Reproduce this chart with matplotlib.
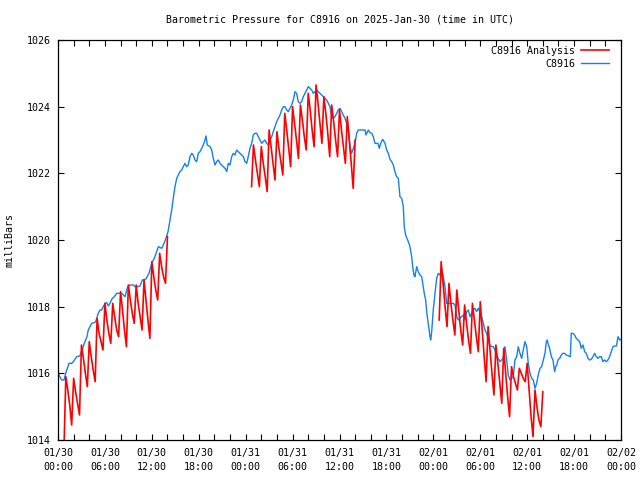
import numpy as np
import matplotlib
matplotlib.use("Agg")
import matplotlib.pyplot as plt
from matplotlib.ticker import MultipleLocator

# ---------------- data ----------------
title = "Barometric Pressure for C8916 on 2025-Jan-30 (time in UTC)"
ylabel = "milliBars"
series_names = ["C8916 Analysis", "C8916"]
xtick_hours = [0, 6, 12, 18, 24, 30, 36, 42, 48, 54, 60, 66, 72]
xtick_labels = ["01/30\n00:00", "01/30\n06:00", "01/30\n12:00", "01/30\n18:00",
                "01/31\n00:00", "01/31\n06:00", "01/31\n12:00", "01/31\n18:00",
                "02/01\n00:00", "02/01\n06:00", "02/01\n12:00", "02/01\n18:00",
                "02/02\n00:00"]
yticks = [1014, 1016, 1018, 1020, 1022, 1024, 1026]

# observed station pressure (hours since 01/30 00:00 UTC, mbar)
blue_hours = [0.0, 0.47, 0.77, 0.98, 1.41, 1.75, 1.96, 2.39, 2.77, 2.94, 3.36, 3.71, 3.87, 4.09, 4.31,
              4.64, 4.82, 5.15, 5.37, 5.59, 5.79, 6.01, 6.23, 6.43, 6.65, 6.94, 7.2, 7.51, 8.15, 8.35,
              8.57, 8.91, 9.21, 9.63, 9.85, 10.19, 10.49, 10.78, 11.21, 11.64, 11.98, 12.31, 12.62,
              12.83, 13.26, 13.47, 13.81, 14.07, 14.32, 14.54, 14.74, 14.96, 15.18, 15.38, 15.6,
              15.82, 16.02, 16.24, 16.46, 16.66, 16.88, 17.1, 17.3, 17.52, 17.74, 17.94, 18.16,
              18.38, 18.58, 18.8, 18.93, 19.09, 19.44, 19.66, 19.86, 20.08, 20.29, 20.5, 20.72,
              20.93, 21.14, 21.36, 21.57, 21.78, 21.99, 22.21, 22.42, 22.63, 22.85, 23.06, 23.27,
              23.7, 23.91, 24.13, 24.33, 24.55, 24.77, 24.97, 25.19, 25.41, 25.61, 25.83, 26.05,
              26.26, 26.47, 26.69, 26.89, 27.11, 27.33, 27.53, 27.75, 27.97, 28.18, 28.39, 28.61,
              28.82, 29.03, 29.25, 29.45, 29.67, 29.88, 30.09, 30.31, 30.52, 30.73, 30.95, 31.16,
              31.37, 31.59, 31.8, 32.01, 32.23, 32.44, 32.65, 32.86, 33.08, 33.5, 33.72, 33.93,
              34.14, 34.36, 34.57, 34.78, 35.0, 35.21, 35.42, 35.64, 35.84, 36.06, 36.28, 36.48,
              36.7, 36.92, 37.12, 37.34, 37.55, 37.76, 37.98, 38.2, 38.4, 38.62, 39.26, 39.39,
              39.68, 39.9, 40.12, 40.32, 40.54, 40.92, 41.09, 41.27, 41.52, 41.82, 42.03, 42.24,
              42.46, 42.67, 42.88, 43.09, 43.31, 43.52, 43.64, 43.73, 43.95, 44.16, 44.28, 44.46,
              44.63, 44.8, 45.01, 45.23, 45.36, 45.52, 45.65, 45.87, 46.07, 46.29, 46.51, 46.71,
              46.84, 47.02, 47.15, 47.31, 47.44, 47.57, 47.66, 47.79, 47.99, 48.21, 48.43, 48.63,
              48.85, 49.07, 49.27, 49.49, 49.71, 50.13, 50.55, 50.77, 50.99, 51.2, 51.41, 51.83,
              52.05, 52.26, 52.47, 52.69, 52.9, 53.1, 53.32, 53.54, 53.74, 53.96, 54.18, 54.39,
              54.6, 54.82, 55.02, 55.24, 55.46, 55.66, 55.88, 56.1, 56.3, 56.52, 56.74, 56.94,
              57.16, 57.38, 57.58, 57.8, 58.01, 58.22, 58.44, 58.66, 58.86, 59.08, 59.3, 59.5,
              59.72, 59.94, 60.14, 60.36, 60.57, 60.78, 61.0, 61.21, 61.42, 61.64, 61.85, 62.06,
              62.28, 62.45, 62.58, 62.66, 62.87, 63.09, 63.3, 63.51, 63.64, 63.8, 63.93, 64.15,
              64.37, 64.57, 64.79, 65.0, 65.3, 65.52, 65.64, 65.85, 66.06, 66.28, 66.5, 66.71,
              66.92, 67.14, 67.35, 67.56, 67.78, 67.99, 68.2, 68.41, 68.63, 68.84, 69.05, 69.26,
              69.48, 69.69, 69.9, 70.12, 70.33, 70.54, 70.76, 70.97, 71.18, 71.41, 71.62, 71.83, 72.0]
blue_mbar = [1016.0, 1015.8, 1015.8, 1016.0, 1016.3, 1016.3, 1016.35, 1016.5, 1016.52, 1016.6, 1016.9,
             1017.1, 1017.3, 1017.4, 1017.5, 1017.52, 1017.55, 1017.8, 1017.9, 1017.9, 1018.0, 1018.1,
             1018.12, 1018.02, 1018.1, 1018.25, 1018.3, 1018.4, 1018.4, 1018.35, 1018.3, 1018.6,
             1018.65, 1018.65, 1018.6, 1018.6, 1018.62, 1018.8, 1018.82, 1019.0, 1019.3, 1019.45,
             1019.65, 1019.8, 1019.75, 1019.85, 1020.05, 1020.25, 1020.6, 1020.9, 1021.25, 1021.6,
             1021.85, 1021.95, 1022.05, 1022.1, 1022.2, 1022.3, 1022.2, 1022.25, 1022.5, 1022.6,
             1022.55, 1022.4, 1022.35, 1022.6, 1022.65, 1022.75, 1022.85, 1023.0, 1023.12, 1022.85,
             1022.8, 1022.7, 1022.45, 1022.25, 1022.35, 1022.4, 1022.3, 1022.25, 1022.2, 1022.15,
             1022.05, 1022.3, 1022.25, 1022.5, 1022.6, 1022.55, 1022.7, 1022.65, 1022.6, 1022.5,
             1022.35, 1022.3, 1022.5, 1022.75, 1022.9, 1023.15, 1023.2, 1023.2, 1023.1, 1023.0,
             1022.9, 1022.95, 1023.0, 1022.9, 1022.85, 1023.0, 1023.1, 1023.25, 1023.4, 1023.55,
             1023.65, 1023.75, 1023.9, 1024.0, 1024.0, 1023.9, 1023.85, 1023.95, 1024.05, 1024.2,
             1024.45, 1024.4, 1024.15, 1024.1, 1024.15, 1024.3, 1024.4, 1024.5, 1024.6, 1024.55,
             1024.5, 1024.4, 1024.45, 1024.5, 1024.4, 1024.35, 1024.3, 1024.25, 1024.2, 1024.1,
             1024.0, 1023.7, 1023.65, 1023.7, 1023.8, 1023.9, 1023.95, 1023.85, 1023.75, 1023.65,
             1023.5, 1023.35, 1022.8, 1022.6, 1022.75, 1022.9, 1023.2, 1023.3, 1023.3, 1023.3,
             1023.15, 1023.3, 1023.22, 1023.2, 1023.1, 1022.9, 1022.9, 1022.75, 1022.9, 1023.02,
             1022.9, 1022.7, 1022.6, 1022.42, 1022.35, 1022.25, 1022.05, 1021.9, 1021.85, 1021.55,
             1021.3, 1021.25, 1021.0, 1020.4, 1020.15, 1020.05, 1019.95, 1019.8, 1019.5, 1019.2,
             1018.95, 1018.9, 1019.2, 1019.05, 1018.95, 1018.9, 1018.6, 1018.4, 1018.2, 1017.85,
             1017.55, 1017.35, 1017.1, 1017.0, 1017.25, 1017.9, 1018.4, 1018.85, 1019.0, 1018.95,
             1019.1, 1018.9, 1018.6, 1018.1, 1018.1, 1018.1, 1018.05, 1017.7, 1017.6, 1017.65,
             1017.75, 1017.6, 1017.85, 1017.9, 1017.7, 1017.8, 1017.9, 1017.95, 1017.85, 1017.95,
             1017.85, 1017.7, 1017.5, 1017.3, 1017.2, 1017.0, 1016.85, 1016.8, 1016.8, 1016.7,
             1016.5, 1016.45, 1016.35, 1016.4, 1016.45, 1016.8, 1016.4, 1015.95, 1015.8, 1015.85,
             1015.9, 1016.4, 1016.5, 1016.8, 1016.6, 1016.45, 1016.7, 1016.95, 1016.8, 1016.3,
             1016.0, 1015.85, 1015.8, 1015.55, 1015.7, 1015.95, 1016.15, 1016.2, 1016.4, 1016.6,
             1016.95, 1017.0, 1016.9, 1016.75, 1016.5, 1016.4, 1016.05, 1016.2, 1016.25, 1016.4,
             1016.45, 1016.55, 1016.6, 1016.6, 1016.55, 1016.52, 1016.5, 1017.2, 1017.2, 1017.15,
             1017.05, 1017.0, 1016.95, 1016.75, 1016.85, 1016.65, 1016.6, 1016.45, 1016.4, 1016.42,
             1016.5, 1016.6, 1016.5, 1016.45, 1016.5, 1016.5, 1016.35, 1016.4, 1016.35, 1016.4,
             1016.5, 1016.65, 1016.8, 1016.82, 1016.82, 1017.1, 1017.0, 1017.02]

# analysis runs, 15-minute values (start hour of each run)
red_step = 0.25
red1_start = 0.75
red1_mbar = [1013.6,
             1015.9, 1015.5, 1015.05, 1014.45,
             1015.85, 1015.45, 1015.1, 1014.75,
             1016.85, 1016.45, 1016.0, 1015.6,
             1016.95, 1016.5, 1016.1, 1015.75,
             1017.65, 1017.2, 1016.95, 1016.7,
             1018.1, 1017.6, 1017.2, 1016.9,
             1018.1, 1017.7, 1017.3, 1017.1,
             1018.45, 1017.9, 1017.3, 1016.8,
             1018.65, 1018.2, 1017.8, 1017.5,
             1018.65, 1018.1, 1017.7, 1017.3,
             1018.8, 1018.2, 1017.6, 1017.05,
             1019.35, 1018.9, 1018.5, 1018.2,
             1019.6, 1019.2, 1018.9, 1018.7,
             1020.1]
red2_start = 24.75
red2_mbar = [1021.6,
             1022.85, 1022.4, 1022.0, 1021.6,
             1022.8, 1022.3, 1021.9, 1021.45,
             1023.3, 1022.8, 1022.3, 1021.8,
             1023.25, 1022.75, 1022.35, 1021.95,
             1023.8, 1023.3, 1022.75, 1022.2,
             1024.0, 1023.5, 1023.0, 1022.45,
             1024.05, 1023.6, 1023.1, 1022.7,
             1024.4, 1023.9, 1023.3, 1022.8,
             1024.65, 1024.1, 1023.5, 1022.9,
             1024.3, 1023.8, 1023.2, 1022.5,
             1024.05, 1023.55, 1023.0, 1022.5,
             1023.9, 1023.3, 1022.8, 1022.3,
             1023.7, 1023.0, 1022.3, 1021.55,
             1023.0]
red3_start = 48.75
red3_mbar = [1017.6,
             1019.35, 1018.7, 1018.0, 1017.4,
             1018.7, 1018.1, 1017.6, 1017.15,
             1018.5, 1017.9, 1017.3, 1016.85,
             1018.05, 1017.5, 1017.0, 1016.6,
             1018.1, 1017.6, 1017.1, 1016.65,
             1018.15, 1017.3, 1016.5, 1015.75,
             1017.4, 1016.7, 1016.0, 1015.35,
             1016.85, 1016.3, 1015.7, 1015.1,
             1016.75, 1016.0, 1015.3, 1014.7,
             1016.2, 1015.9, 1015.7, 1015.5,
             1016.15, 1016.0, 1015.85, 1015.75,
             1016.3, 1015.5, 1014.7, 1014.1,
             1015.5, 1015.0, 1014.6, 1014.4,
             1015.45]

# ---------------- plot ----------------
plt.rcParams['font.family'] = ['DejaVu Sans Mono']
fs = 7.2
red_color = '#ff0000'
blue_color = '#1580f0'

fig = plt.figure(figsize=(6.4, 4.8), dpi=100)
ax = fig.add_axes([58/640, 1 - 440/480, (621-58)/640, 400/480])

first = True
for start, vals in [(red1_start, red1_mbar), (red2_start, red2_mbar), (red3_start, red3_mbar)]:
    hrs = start + red_step * np.arange(len(vals))
    ax.plot(hrs, vals, color=red_color, lw=1.2,
            label=series_names[0] if first else None, zorder=3)
    first = False
ax.plot(blue_hours, blue_mbar, color=blue_color, lw=1.0, label=series_names[1], zorder=2)

ax.set_xlim(0, 72)
ax.set_ylim(1014, 1026)
ax.set_xticks(xtick_hours)
ax.set_xticklabels(xtick_labels, fontsize=fs, linespacing=1.45)
ax.xaxis.set_minor_locator(MultipleLocator(2))
ax.set_yticks(yticks)
ax.set_yticklabels([str(v) for v in yticks], fontsize=fs)
ax.tick_params(axis='both', which='both', direction='in', top=True, right=True, width=0.8)
ax.tick_params(axis='both', which='major', length=4)
ax.tick_params(axis='both', which='minor', length=4)
ax.tick_params(axis='x', which='major', pad=6)
ax.tick_params(axis='y', which='major', pad=5)
for s in ax.spines.values():
    s.set_linewidth(0.9)

fig.text(339.5/640, 1 - 20/480, title, ha='center', va='center', fontsize=fs)
fig.text(10/640, 1 - 240/480, ylabel, ha='center', va='center', rotation=90, fontsize=fs)

leg = ax.legend(loc='upper right', bbox_to_anchor=((609 - 58) / 563, (440 - 46) / 400),
                frameon=False, fontsize=fs, markerfirst=False,
                handlelength=2.8, handletextpad=0.6, labelspacing=0.3,
                borderaxespad=0.0, borderpad=0.0)

fig.savefig('out.png', dpi=100)
